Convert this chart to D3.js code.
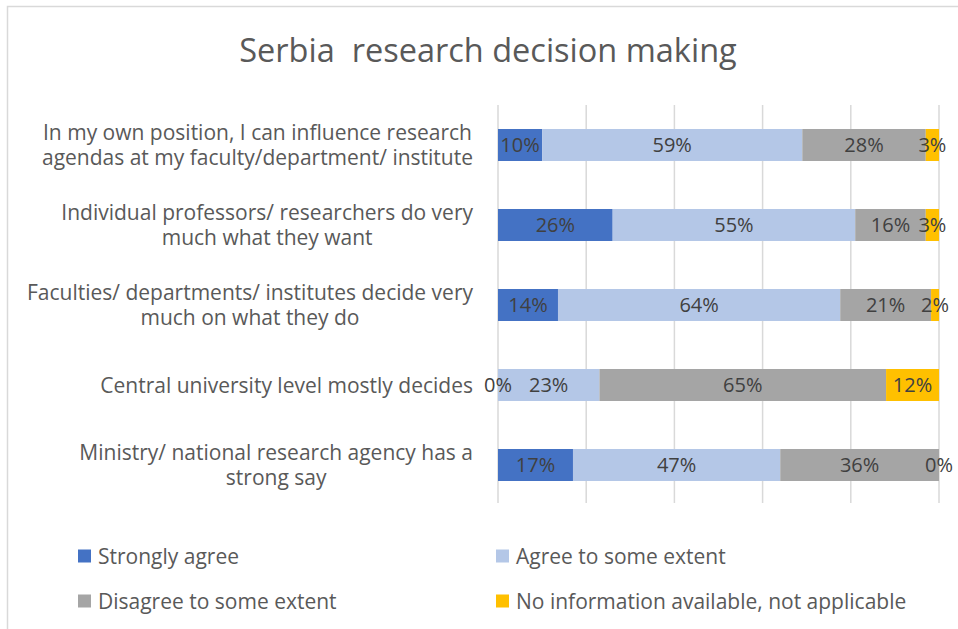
<!DOCTYPE html>
<html>
<head>
<meta charset="utf-8">
<script src="https://cdn.jsdelivr.net/npm/d3@7"></script>
<style>
  body { margin: 0; background: #fff; }
  text { font-family: "Open Sans", Lato, sans-serif; }
</style>
</head>
<body>
<div id="chart"></div>
<script>
// categories (top to bottom), each split in lines as in the original
var categories = [
  ["In my own position, I can influence research", "agendas at my faculty/department/ institute"],
  ["Individual professors/ researchers do very", "much what they want"],
  ["Faculties/ departments/ institutes decide very", "much on what they do"],
  ["Central university level mostly decides"],
  ["Ministry/ national research agency has a", "strong say"]
];
var seriesNames = ["Strongly agree", "Agree to some extent", "Disagree to some extent", "No information available, not applicable"];
var stronglyAgree = [0.10, 0.26, 0.136, 0.00, 0.17];
var agreeSome     = [0.59, 0.55, 0.640, 0.23, 0.47];
var disagreeSome  = [0.28, 0.16, 0.206, 0.65, 0.36];
var noInfo        = [0.03, 0.03, 0.018, 0.12, 0.00];
var xTicks = [0, 0.2, 0.4, 0.6, 0.8, 1];

var colors = ["#4472C4", "#B4C7E7", "#A5A5A5", "#FFC000"];

var W = 958, H = 629;
var svg = d3.select("#chart").append("svg")
    .attr("width", W)
    .attr("height", H);

// chart border
svg.append("rect")
    .attr("x", 7.5).attr("y", 6.5)
    .attr("width", W + 20).attr("height", H + 20)
    .attr("fill", "none")
    .attr("stroke", "#d9d9d9")
    .attr("stroke-width", 1.5);

// title
svg.append("text")
    .attr("x", 488)
    .attr("y", 62)
    .attr("text-anchor", "middle")
    .style("font-size", "32.5px")
    .attr("fill", "#595959")
    .attr("xml:space", "preserve")
    .text("Serbia  research decision making");

var x = d3.scaleLinear().domain([0, 1]).range([498, 939]);
var y = d3.scaleBand()
    .domain(d3.range(categories.length))
    .range([105, 505])
    .paddingInner(0.6)
    .paddingOuter(0.3);

// gridlines
svg.append("g")
  .selectAll("line")
  .data(xTicks)
  .enter().append("line")
    .attr("x1", function(d) { return x(d); })
    .attr("x2", function(d) { return x(d); })
    .attr("y1", 105)
    .attr("y2", 503)
    .attr("stroke", "#d9d9d9")
    .attr("stroke-width", 1.5);

// build table for stacking
var table = categories.map(function(c, i) {
  return { idx: i, s0: stronglyAgree[i], s1: agreeSome[i], s2: disagreeSome[i], s3: noInfo[i] };
});
var keys = ["s0", "s1", "s2", "s3"];
var stacked = d3.stack().keys(keys)(table);

svg.append("g")
  .selectAll("g")
  .data(stacked)
  .enter().append("g")
    .attr("fill", function(d, i) { return colors[i]; })
  .selectAll("rect")
  .data(function(d) { return d; })
  .enter().append("rect")
    .attr("x", function(d) { return x(d[0]); })
    .attr("y", function(d) { return y(d.data.idx); })
    .attr("width", function(d) { return x(d[1]) - x(d[0]); })
    .attr("height", y.bandwidth());

// value labels, drawn after all bars so nothing covers them
var fmt = d3.format(".0%");
svg.append("g")
  .selectAll("g")
  .data(stacked)
  .enter().append("g")
  .selectAll("text")
  .data(function(d) { return d; })
  .enter().append("text")
    .attr("x", function(d) { return (x(d[0]) + x(d[1])) / 2; })
    .attr("y", function(d) { return y(d.data.idx) + y.bandwidth() / 2; })
    .attr("dy", "0.36em")
    .attr("text-anchor", "middle")
    .attr("fill", "#404040")
    .style("font-size", "20px")
    .text(function(d) { return fmt(d[1] - d[0]); });

// category labels: one text per category, lines as tspans,
// block right-aligned at the plot edge, lines centered within block
var lineH = 25;
categories.forEach(function(lines, i) {
  var cy = y(i) + y.bandwidth() / 2;
  var t = svg.append("text")
      .attr("text-anchor", "middle")
      .attr("fill", "#595959")
      .style("font-size", "21px");
  var spans = lines.map(function(l, j) {
    return t.append("tspan")
      .attr("y", cy + (j - (lines.length - 1) / 2) * lineH)
      .attr("dy", "0.36em")
      .text(l);
  });
  var maxW = d3.max(spans, function(s) { return s.node().getComputedTextLength(); });
  spans.forEach(function(s) { s.attr("x", 473 - maxW / 2); });
});

// legend
var legendPos = [[78, 556], [496, 556], [78, 601], [496, 601]];
var legend = svg.append("g")
  .selectAll("g")
  .data(seriesNames)
  .enter().append("g")
    .attr("transform", function(d, i) { return "translate(" + legendPos[i][0] + "," + legendPos[i][1] + ")"; });
legend.append("rect")
    .attr("x", 0).attr("y", -6.5)
    .attr("width", 13).attr("height", 13)
    .attr("fill", function(d, i) { return colors[i]; });
legend.append("text")
    .attr("x", 20)
    .attr("dy", "0.36em")
    .attr("fill", "#595959")
    .style("font-size", "21px")
    .text(function(d) { return d; });
</script>
</body>
</html>
